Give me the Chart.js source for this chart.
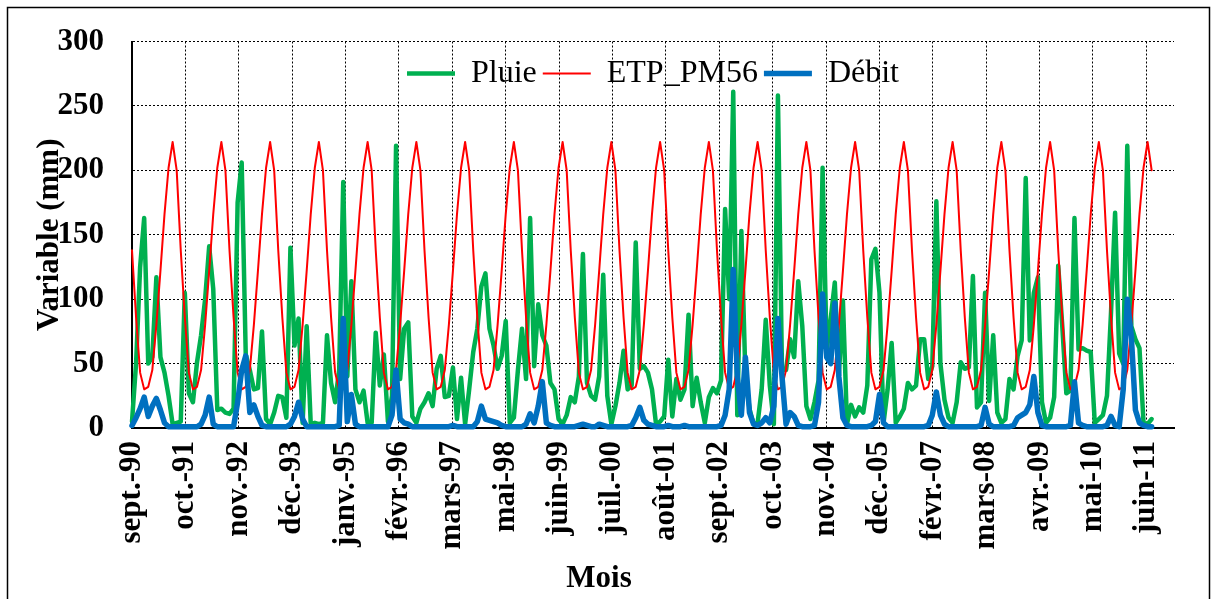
<!DOCTYPE html>
<html>
<head>
<meta charset="utf-8">
<title>Pluie, ETP et Débit</title>
<script src="https://cdn.jsdelivr.net/npm/chart.js@4.4.1/dist/chart.umd.min.js"></script>
<style>
  html, body { margin: 0; padding: 0; background: #fff; }
  #wrap { width: 1214px; height: 599px; }
</style>
</head>
<body>
<div id="wrap"><canvas id="chart" width="1214" height="599"></canvas></div>
<script>
// monthly series, sept. 1990 -> août 2011 (one row = one hydrological year, sept..août)
const pluie = [
  5, 50, 125, 163, 50, 55, 117, 55, 43, 25, 3, 4,
  5, 105, 27, 20, 51, 72, 100, 141, 108, 14, 15, 12,
  11, 15, 175, 206, 57, 45, 30, 31, 75, 7, 3, 12,
  25, 24, 8, 140, 64, 85, 4, 79, 3, 4, 3, 4,
  72, 35, 20, 45, 191, 40, 114, 30, 20, 29, 4, 4,
  74, 33, 57, 5, 25, 219, 38, 77, 82, 9, 4, 15,
  20, 27, 17, 46, 56, 24, 25, 47, 7, 39, 3, 30,
  59, 77, 110, 120, 77, 64, 46, 56, 83, 4, 8, 45,
  77, 38, 163, 48, 96, 72, 64, 35, 30, 7, 3, 10,
  24, 20, 40, 135, 35, 25, 22, 40, 119, 25, 3, 17,
  35, 60, 30, 33, 144, 46, 48, 43, 30, 3, 5, 9,
  53, 9, 38, 22, 30, 88, 17, 39, 20, 4, 24, 31,
  27, 37, 170, 100, 261, 10, 153, 40, 15, 3, 4, 30,
  84, 33, 3, 258, 45, 45, 69, 55, 114, 79, 17, 7,
  20, 37, 202, 60, 85, 113, 40, 99, 3, 18, 9, 16,
  12, 33, 131, 139, 105, 4, 30, 66, 4, 9, 15, 35,
  30, 33, 69, 69, 38, 48, 176, 50, 22, 8, 4, 20,
  51, 46, 47, 118, 16, 20, 105, 21, 72, 12, 4, 7,
  38, 30, 56, 68, 194, 68, 105, 117, 20, 4, 8, 24,
  126, 79, 27, 29, 163, 61, 62, 60, 59, 4, 7, 10,
  25, 90, 167, 58, 50, 219, 79, 69, 62, 4, 3, 7
];

const etp = [
  138, 86, 43, 30, 32, 45, 80, 122, 166, 202, 222, 200,
  138, 86, 43, 30, 32, 45, 80, 122, 166, 202, 222, 200,
  138, 86, 43, 30, 32, 45, 80, 122, 166, 202, 222, 200,
  138, 86, 43, 30, 32, 45, 80, 122, 166, 202, 222, 200,
  138, 86, 43, 30, 32, 45, 80, 122, 166, 202, 222, 200,
  138, 86, 43, 30, 32, 45, 80, 122, 166, 202, 222, 200,
  138, 86, 43, 30, 32, 45, 80, 122, 166, 202, 222, 200,
  138, 86, 43, 30, 32, 45, 80, 122, 166, 202, 222, 200,
  138, 86, 43, 30, 32, 45, 80, 122, 166, 202, 222, 200,
  138, 86, 43, 30, 32, 45, 80, 122, 166, 202, 222, 200,
  138, 86, 43, 30, 32, 45, 80, 122, 166, 202, 222, 200,
  138, 86, 43, 30, 32, 45, 80, 122, 166, 202, 222, 200,
  138, 86, 43, 30, 32, 45, 80, 122, 166, 202, 222, 200,
  138, 86, 43, 30, 32, 45, 80, 122, 166, 202, 222, 200,
  138, 86, 43, 30, 32, 45, 80, 122, 166, 202, 222, 200,
  138, 86, 43, 30, 32, 45, 80, 122, 166, 202, 222, 200,
  138, 86, 43, 30, 32, 45, 80, 122, 166, 202, 222, 200,
  138, 86, 43, 30, 32, 45, 80, 122, 166, 202, 222, 200,
  138, 86, 43, 30, 32, 45, 80, 122, 166, 202, 222, 200,
  138, 86, 43, 30, 32, 45, 80, 122, 166, 202, 222, 200,
  138, 86, 43, 30, 32, 45, 80, 122, 166, 202, 222, 200
];

const debit = [
  2, 8, 15, 24, 9, 17, 23, 14, 4, 1, 1, 1,
  1, 1, 1, 1, 1, 3, 10, 24, 3, 1, 1, 1,
  1, 1, 20, 45, 56, 12, 18, 9, 2, 1, 1, 1,
  1, 1, 1, 3, 9, 20, 7, 1, 1, 1, 1, 1,
  1, 1, 1, 2, 85, 5, 26, 3, 1, 1, 1, 1,
  1, 1, 1, 1, 10, 45, 7, 4, 3, 1, 1, 1,
  1, 1, 1, 1, 1, 1, 1, 2, 1, 1, 1, 1,
  1, 5, 17, 7, 6, 5, 4, 2, 1, 1, 1, 1,
  1, 3, 11, 4, 17, 36, 4, 2, 1, 1, 1, 1,
  1, 1, 2, 3, 2, 1, 1, 3, 2, 1, 1, 1,
  1, 1, 1, 2, 8, 16, 6, 3, 2, 1, 1, 1,
  2, 1, 1, 1, 2, 1, 1, 1, 1, 1, 1, 1,
  1, 2, 10, 30, 123, 40, 10, 55, 12, 3, 2, 4,
  8, 4, 17, 85, 40, 3, 12, 9, 2, 1, 1, 1,
  2, 20, 104, 55, 50, 97, 40, 8, 2, 1, 1, 1,
  1, 1, 2, 5, 26, 4, 1, 1, 1, 1, 1, 1,
  1, 1, 1, 1, 2, 10, 28, 10, 3, 1, 1, 1,
  1, 1, 1, 1, 1, 2, 16, 3, 1, 1, 1, 1,
  1, 2, 8, 10, 12, 18, 40, 12, 2, 1, 1, 1,
  1, 1, 1, 2, 36, 4, 2, 1, 1, 1, 1, 1,
  2, 9, 2, 1, 30, 100, 71, 14, 4, 2, 1, 1
];

// axis labels (Excel date axis, one major tick every 400 days)
const tickLabels = ['sept.-90', 'oct.-91', 'nov.-92', 'déc.-93', 'janv.-95', 'févr.-96', 'mars-97',
  'mai-98', 'juin-99', 'juil.-00', 'août-01', 'sept.-02', 'oct.-03', 'nov.-04', 'déc.-05',
  'févr.-07', 'mars-08', 'avr.-09', 'mai-10', 'juin-11'];
const yTicks = [0, 50, 100, 150, 200, 250, 300];

const tickStep = 400 / 30.4375;   // 400 days expressed in months
const serif = "'Liberation Serif', 'Times New Roman', serif";

const toPoints = arr => arr.map((v, i) => ({ x: i, y: v }));

// white page + black outer frame
const frame = {
  id: 'frame',
  beforeDraw(chart) {
    const c = chart.ctx;
    c.save();
    c.fillStyle = '#fff';
    c.fillRect(0, 0, chart.width, chart.height);
    c.strokeStyle = '#000';
    c.lineWidth = 1.5;
    c.strokeRect(7.5, 7.5, chart.width - 12, chart.height + 10);
    c.restore();
  }
};

// legend sits inside the plot area, on top of the grid
const legendInPlot = {
  id: 'legendInPlot',
  afterInit(chart) {
    const lg = chart.legend;
    const fit = lg.fit;
    lg.fit = function () {
      fit.call(this);
      this._fullHeight = this.height;
      this.height = 0;
    };
  },
  afterLayout(chart) {
    const lg = chart.legend, a = chart.chartArea;
    lg.left = a.left;
    lg.right = a.right;
    lg.width = a.right - a.left;
    lg.top = a.top + 10;
    lg.height = lg._fullHeight;
    lg.bottom = lg.top + lg.height;
  }
};

// x axis title, placed like in the original sheet
const xTitle = {
  id: 'xTitle',
  afterDraw(chart) {
    const c = chart.ctx;
    c.save();
    c.font = 'bold 31px ' + serif;
    c.fillStyle = '#000';
    c.textAlign = 'center';
    c.textBaseline = 'middle';
    c.fillText('Mois', 599, 579);
    c.restore();
  }
};

new Chart(document.getElementById('chart'), {
  type: 'line',
  data: {
    datasets: [
      {
        label: 'Pluie',
        data: toPoints(pluie),
        borderColor: '#00B050',
        backgroundColor: '#00B050',
        borderWidth: 4.5,
        order: 3
      },
      {
        label: 'ETP_PM56',
        data: toPoints(etp),
        borderColor: '#FF0000',
        backgroundColor: '#FF0000',
        borderWidth: 2,
        order: 2
      },
      {
        label: 'Débit',
        data: toPoints(debit),
        borderColor: '#0070C0',
        backgroundColor: '#0070C0',
        borderWidth: 5.5,
        order: 1
      }
    ]
  },
  options: {
    responsive: false,
    devicePixelRatio: 1,
    animation: false,
    layout: { padding: { left: 34.5, right: 40, top: 41.5, bottom: 36.5 } },
    elements: {
      point: { radius: 0, hoverRadius: 0 },
      line: { tension: 0, borderJoinStyle: 'round', borderCapStyle: 'round', fill: false }
    },
    datasets: { line: { clip: false } },
    scales: {
      x: {
        type: 'linear',
        min: 0,
        max: 256.5,
        afterBuildTicks: axis => {
          axis.ticks = tickLabels.map((t, k) => ({ value: k * tickStep }));
        },
        ticks: {
          autoSkip: false,
          minRotation: 90,
          maxRotation: 90,
          padding: 13,
          color: '#000',
          font: { family: serif, size: 31, weight: 'bold' },
          callback: (v, i) => tickLabels[i]
        },
        grid: { color: '#000', lineWidth: 1, drawTicks: false },
        border: { display: true, color: '#000', width: 2, dash: [2, 2] }
      },
      y: {
        min: 0,
        max: 300,
        afterBuildTicks: axis => {
          axis.ticks = yTicks.map(v => ({ value: v }));
        },
        ticks: {
          padding: 4,
          color: '#000',
          font: { family: serif, size: 31, weight: 'bold', lineHeight: 1 }
        },
        grid: { color: '#000', lineWidth: 1, drawTicks: true, tickLength: 24, tickColor: 'rgba(0,0,0,0)' },
        border: { display: true, color: '#000', width: 2, dash: [2, 2] },
        title: {
          display: true,
          text: 'Variable (mm)',
          color: '#000',
          font: { family: serif, size: 31, weight: 'bold', lineHeight: 1 },
          padding: { top: 0, bottom: -12 }
        }
      }
    },
    plugins: {
      legend: {
        position: 'top',
        align: 'center',
        labels: {
          usePointStyle: true,
          pointStyle: 'line',
          pointStyleWidth: 48,
          padding: 6,
          color: '#000',
          font: { family: serif, size: 32, weight: 'normal' },
          sort: (a, b) => a.datasetIndex - b.datasetIndex
        }
      },
      tooltip: { enabled: false }
    }
  },
  plugins: [frame, legendInPlot, xTitle]
});
</script>
</body>
</html>
